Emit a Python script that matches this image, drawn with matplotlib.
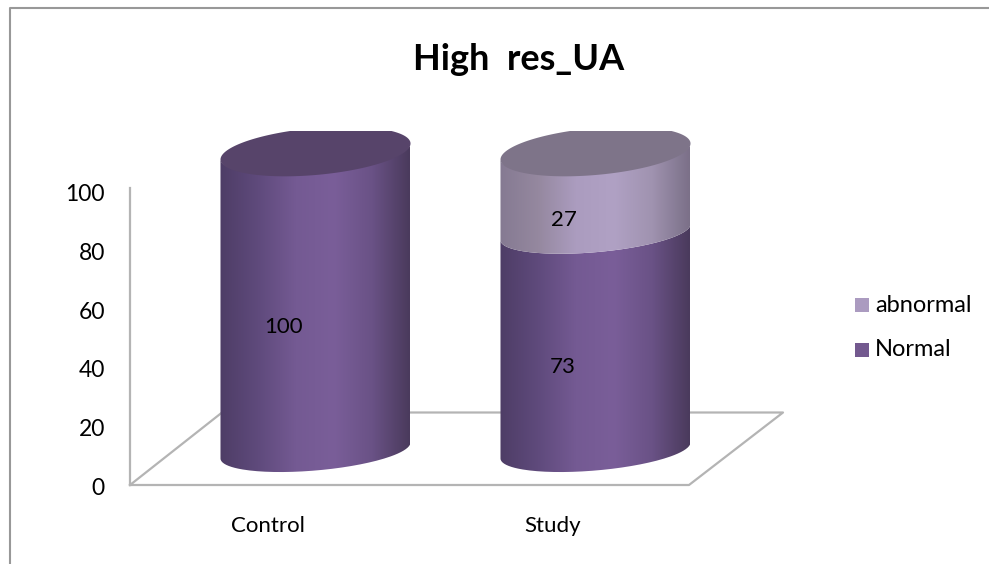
import matplotlib
matplotlib.use('Agg')
from matplotlib import pyplot as plt
from matplotlib.colors import LinearSegmentedColormap
from matplotlib.patches import PathPatch, Rectangle
from matplotlib.path import Path
import numpy as np

plt.rcParams['font.family'] = ['Lato', 'DejaVu Sans']

categories = ["Control", "Study"]
normal = [100, 73]
abnormal = [0, 27]
y_ticks = [0, 20, 40, 60, 80, 100]
chart_title = "High  res_UA"

W, H = 989, 564

# side shading of the cylinders, left to right
normal_stops = ["#4e3d66", "#5f4a7c", "#745a93", "#7a5e99", "#6a5286", "#4a3a5c"]
abnormal_stops = ["#857a92", "#95889f", "#ab9cbf", "#b0a1c4", "#a093b0", "#7b7088"]
normal_top = "#57446a"
abnormal_top = "#7e7489"
normal_legend = "#73598f"
abnormal_legend = "#ab9bc0"
line_gray = "#b4b4b4"

fig = plt.figure(figsize=(W / 100, H / 100), dpi=100)

# the main axes fills the figure: x in category units, y in percent
px_per_cat = 280.0
px_per_val = 2.99
x0_px = 315.5
y0_px = 450.5
ax = fig.add_axes([0, 0, 1, 1])
ax.set_xlim(-x0_px / px_per_cat, (W - x0_px) / px_per_cat)
ax.set_ylim((y0_px - H) / px_per_val, y0_px / px_per_val)
ax.axis('off')


def px(x, y):
    # pixel position to data units, for decorations only
    return (x - x0_px) / px_per_cat, (y0_px - y) / px_per_val


half_w = 95.0 / px_per_cat
ell_b = 20.0 / px_per_val
ell_b_top = 23.5 / px_per_val
ell_s = 8.0 / px_per_val
t = np.linspace(0, 2 * np.pi, 181)


def side(c, v0, v1, stops):
    # cylinder wall between two values: lower arc up to upper arc
    a = np.linspace(np.pi, 2 * np.pi, 91)
    xb = c + half_w * np.cos(a)
    yb = v0 + ell_s * np.cos(a) + ell_b * np.sin(a)
    xt = xb[::-1]
    yt = v1 + ell_s * np.cos(a[::-1]) + ell_b * np.sin(a[::-1])
    verts = np.column_stack([np.r_[xb, xt], np.r_[yb, yt]])
    patch = PathPatch(Path(verts), fc='none', ec='none', zorder=3)
    ax.add_patch(patch)
    cmap = LinearSegmentedColormap.from_list("shade", stops)
    im = ax.imshow(np.linspace(0, 1, 256).reshape(1, -1), cmap=cmap, aspect='auto',
                   extent=(c - half_w, c + half_w, v0 - 30, v1 + 30), zorder=3)
    im.set_clip_path(patch)


def top_cap(c, v, color):
    # upper face of the cylinder, cut flat by the plot area
    xe = c + half_w * np.cos(t)
    ye = v + ell_s * np.cos(t) + ell_b_top * np.sin(t)
    poly = ax.fill(xe, ye, color=color, lw=0, zorder=4)[0]
    xc, yc = px(0, 131)
    clip = Rectangle((c - 1, yc - 60), 2, 60, transform=ax.transData)
    poly.set_clip_path(clip)


# floor and back edge
floor = [(130, 485), (222, 412.5), (783, 412.5), (689, 485), (130, 485)]
ax.plot(*zip(*[px(*p) for p in floor]), color=line_gray, lw=1.6, zorder=1)

# vertical value axis
ax_y = fig.add_axes([130 / W, 1 - 486.5 / H, 0.001, 294 / H])
ax_y.set_ylim(0, 100)
ax_y.set_yticks(y_ticks)
ax_y.patch.set_alpha(0)
ax_y.set_xticks([])
for name in ['top', 'right', 'bottom']:
    ax_y.spines[name].set_visible(False)
ax_y.spines['left'].set_color(line_gray)
ax_y.spines['left'].set_linewidth(1.6)
ax_y.spines['left'].set_bounds(0.5, 101.5)
ax_y.tick_params(axis='y', length=0, pad=18, labelsize=16.5, labelcolor='black')

# stacked cylinders
for i, cat in enumerate(categories):
    n = normal[i]
    ab = abnormal[i]
    side(i, 0, n, normal_stops)
    if ab > 0:
        side(i, n, n + ab, abnormal_stops)
        top_cap(i, n + ab, abnormal_top)
    else:
        top_cap(i, n, normal_top)

# value labels
normal_label_px = [(284, 327), (563, 367)]
abnormal_label_px = [None, (564, 220)]
for i, cat in enumerate(categories):
    ax.text(*px(*normal_label_px[i]), str(normal[i]), ha='center', va='center',
            fontsize=16, zorder=5)
    if abnormal[i] > 0:
        ax.text(*px(*abnormal_label_px[i]), str(abnormal[i]), ha='center', va='center',
                fontsize=16, zorder=5)

# category labels
for i, cat in enumerate(categories):
    ax.text(*px(268 + i * 285, 526), cat, ha='center', va='center', fontsize=16)

ax.text(*px(519, 59), chart_title, ha='center', va='center', fontsize=26, fontweight='bold')

# legend
for label, col, ypos in [("abnormal", abnormal_legend, 305), ("Normal", normal_legend, 350)]:
    xs, ys = px(855, ypos + 7)
    xs1, ys1 = px(869, ypos - 7)
    ax.add_patch(Rectangle((xs, ys), xs1 - xs, ys1 - ys, fc=col, ec='none'))
    ax.text(*px(875, ypos), label, ha='left', va='center', fontsize=17)

# chart frame
frame = [(10, H), (10, 8), (W, 8)]
ax.plot(*zip(*[px(*p) for p in frame]), color="#989898", lw=1.5, zorder=1)

fig.savefig("out.png", dpi=100)
plt.close()
